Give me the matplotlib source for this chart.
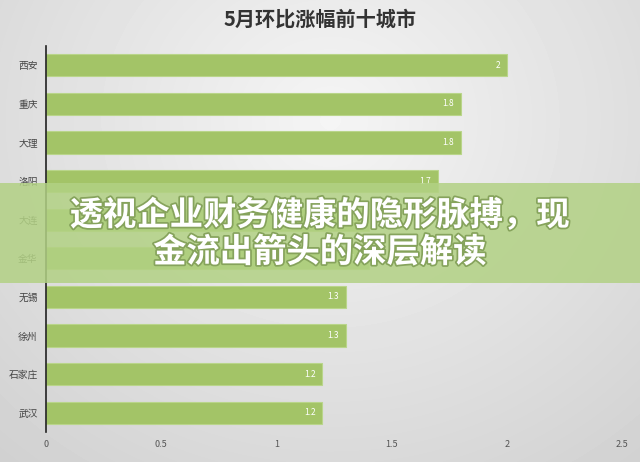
import numpy as np
import matplotlib.pyplot as plt
import matplotlib.patheffects as pe
from matplotlib.patches import Rectangle

plt.rcParams['font.family'] = ['Noto Sans CJK SC', 'DejaVu Sans']

# data
cities = ['西安', '重庆', '大理', '洛阳', '大连', '金华', '无锡', '徐州', '石家庄', '武汉']
values = [2, 1.8, 1.8, 1.7, 1.4, 1.4, 1.3, 1.3, 1.2, 1.2]
value_labels = ['2', '1.8', '1.8', '1.7', '1.4', '1.4', '1.3', '1.3', '1.2', '1.2']
xticks = [0, 0.5, 1, 1.5, 2, 2.5]
xtick_labels = ['0', '0.5', '1', '1.5', '2', '2.5']

title = '5月环比涨幅前十城市'
banner = '透视企业财务健康的隐形脉搏，现\n金流出箭头的深层解读'

bar_color = '#a3c467'

fig = plt.figure(figsize=(6.4, 4.62), dpi=100)

# soft grey vignette behind everything (photo-like background)
yy, xx = np.mgrid[0:462, 0:640]
r = np.sqrt(((xx - 330) / 420.0) ** 2 + ((yy - 120) / 380.0) ** 2)
shade = np.clip(0.96 - 0.12 * r, 0.82, 0.96)
fig.figimage(shade, cmap='gray', vmin=0, vmax=1, origin='upper', zorder=0)

ax = fig.add_axes([46 / 640, 1 - 432 / 462, (622 - 46) / 640, (432 - 46) / 462])
ax.set_facecolor('none')
ax.set_zorder(2)

pos = list(range(len(cities)))
ax.barh(pos, values, height=0.58, color=bar_color,
        edgecolor='#b9d58a', linewidth=0.8)
for p, v, lab in zip(pos, values, value_labels):
    ax.text(v - 0.03, p, lab, ha='right', va='center', fontsize=6,
            color='white')

ax.set_xlim(0, 2.5)
ax.set_ylim(len(cities) - 0.5, -0.5)
ax.set_yticks(pos)
ax.set_yticklabels(cities, fontsize=7, color='#444444')
ax.set_xticks(xticks)
ax.set_xticklabels(xtick_labels, fontsize=6.5, color='#555555')
ax.tick_params(length=0, pad=6)
for s in ['top', 'right', 'bottom']:
    ax.spines[s].set_visible(False)
ax.spines['left'].set_color('#222222')
ax.spines['left'].set_linewidth(1.2)

fig.text(0.5, 1 - 19 / 462, title, ha='center', va='center', fontsize=14.5,
         fontweight='bold', color='#333333')

# semi-transparent banner over the chart
banner_ax = fig.add_axes([0, 0, 1, 1])
banner_ax.set_axis_off()
banner_ax.set_zorder(5)
banner_ax.set_xlim(0, 640)
banner_ax.set_ylim(462, 0)
banner_ax.add_patch(Rectangle((0, 183), 640, 100, facecolor='#b2d184',
                              alpha=0.85, edgecolor='none'))
banner_ax.text(320, 234, banner, ha='center', va='center', fontsize=24,
               fontweight='bold', color='white', linespacing=1.15,
               path_effects=[pe.withStroke(linewidth=2.5, foreground='#86a35c')])

fig.savefig('out.png', dpi=100)
